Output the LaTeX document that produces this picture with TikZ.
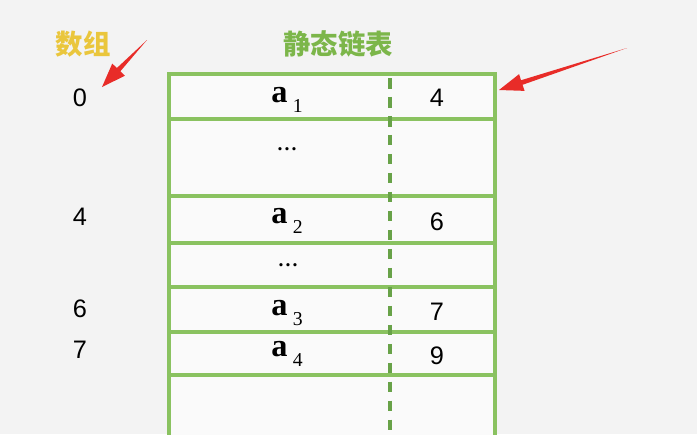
\documentclass[tikz,border=0pt]{standalone}
\usepackage{fontspec}
\setmainfont{Liberation Serif}
\newfontfamily\numfont{Liberation Sans}
\newfontfamily\cjkfont{Noto Sans CJK SC}
\usetikzlibrary{calc}

\definecolor{bggray}{RGB}{243,243,243}
\definecolor{cellwhite}{RGB}{250,250,250}
\definecolor{tablegreen}{RGB}{138,194,96}
\definecolor{dashgreen}{RGB}{104,162,72}
\definecolor{titlegreen}{RGB}{124,182,74}
\definecolor{titleyellow}{RGB}{234,198,60}
\definecolor{markred}{RGB}{232,44,40}

% tapered red pointer from #1 (tail) to #2 (tip)
\newcommand\pointer[2]{
  \coordinate (hb) at ($(#2)!0.6cm!(#1)$);
  \fill [markred] (#1)
    -- ($(hb)!0.06cm!90:(#2)$) -- ($(hb)!0.22cm!90:(#2)$)
    -- (#2)
    -- ($(hb)!0.22cm!-90:(#2)$) -- ($(hb)!0.06cm!-90:(#2)$)
    -- cycle;
}

\begin{document}
\begin{tikzpicture}[x=0.025cm,y=-0.025cm]
\tikzset{
	cell/.style = {
		draw=tablegreen, line width=2.2pt,
		fill=cellwhite
	},
	title/.style = {
		font=\cjkfont\bfseries\fontsize{19.5}{20}\selectfont
	},
	idx/.style = {
		font=\numfont\fontsize{18}{18}\selectfont, inner sep=1pt
	},
	elem/.style = {
		font=\bfseries\fontsize{23}{23}\selectfont, inner sep=1pt
	},
	dots/.style = {
		font=\bfseries\fontsize{14}{14}\selectfont, inner sep=1pt
	},
}

% canvas
\fill[bggray] (0,0) rectangle (697,434);
\useasboundingbox (0,0) rectangle (697,434);
\clip (0,0) rectangle (697,434);

% titles
\node [title, text=titleyellow] (arr) at (83,44) {数组};
\node [title, text=titlegreen] (sll) at (338,44) {静态链表};

% table rows
\foreach \top/\bot in {74/119, 119/196, 196/243, 243/287, 287/332, 332/375, 375/450}
{
  \draw [cell] (169,\top) rectangle (495,\bot);
}
\draw [dashgreen, line width=2.3pt, dash pattern=on 7.5pt off 6pt] (390,78) -- (390,440);

% index column
\node [idx] (i0) at (80,98) {0};
\node [idx] (i4) at (80,217) {4};
\node [idx] (i6) at (80,309) {6};
\node [idx] (i7) at (80,350) {7};

% data column
\newcommand\elt[1]{a\,\raisebox{-0.3em}{\mdseries\fontsize{14}{14}\selectfont #1}}
\node [elem] (d1) at (287,100) {\elt{1}};
\node [dots] (e1) at (287,149) {.\kern1.5pt.\kern1.5pt.};
\node [elem] (d2) at (287,221) {\elt{2}};
\node [dots] (e2) at (288,265) {.\kern1.5pt.\kern1.5pt.};
\node [elem] (d3) at (287,313) {\elt{3}};
\node [elem] (d4) at (287,354) {\elt{4}};

% cursor column
\node [idx] (c1) at (437,98) {4};
\node [idx] (c2) at (437,222) {6};
\node [idx] (c3) at (437,312) {7};
\node [idx] (c4) at (437,356) {9};

% red marks
\coordinate (m1) at (147,40);
\coordinate (t1) at (102,87);
\coordinate (m2) at (627,48);
\coordinate (t2) at (499,90);
\pointer{m1}{t1}
\pointer{m2}{t2}

\end{tikzpicture}
\end{document}
